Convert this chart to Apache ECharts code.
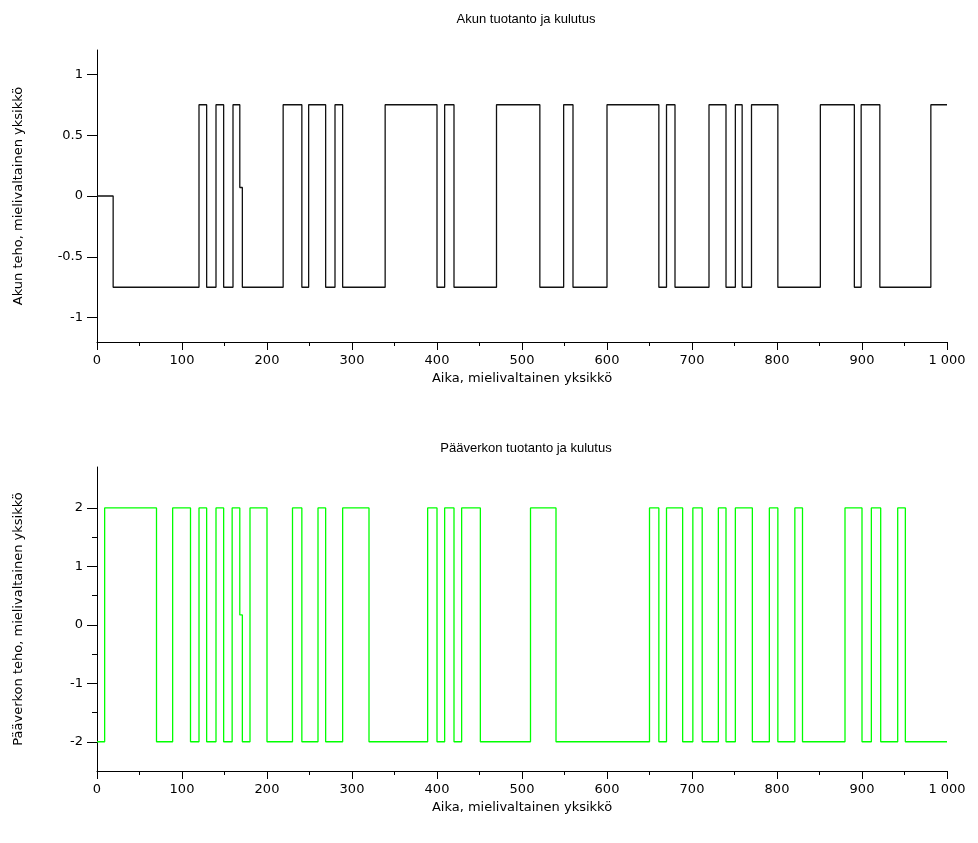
<!DOCTYPE html>
<html>
<head>
<meta charset='utf-8' />
<title>Akun ja pääverkon tuotanto</title>
<style>
html, body { margin: 0; padding: 0; background: #fff; }
#kuva { width: 978px; height: 843px; }
</style>
</head>
<body>
<div id="kuva"></div>
<script src="https://cdn.jsdelivr.net/npm/echarts@6.0.0/dist/echarts.min.js"></script>
<script>
// akun teho: muutoshetket ja tasot (taso pätee seuraavaan hetkeen asti)
var akunAjat = [0, 19, 120, 129, 140, 149, 160, 168, 171, 219, 241, 249, 269, 280, 289, 339,
  400, 409, 420, 470, 521, 549, 560, 600, 661, 670, 680, 720, 740, 751, 759, 770,
  801, 851, 891, 899, 921, 981, 1000];
var akunTeho = [0, -0.75, 0.75, -0.75, 0.75, -0.75, 0.75, 0.07, -0.75, 0.75, -0.75, 0.75, -0.75, 0.75, -0.75, 0.75,
  -0.75, 0.75, -0.75, 0.75, -0.75, 0.75, -0.75, 0.75, -0.75, 0.75, -0.75, 0.75, -0.75, 0.75, -0.75, 0.75,
  -0.75, 0.75, -0.75, 0.75, -0.75, 0.75, 0.75];

// pääverkon teho
var verkonAjat = [0, 9, 70, 89, 110, 120, 129, 140, 149, 159, 168, 171, 180, 200, 230, 241, 260, 269, 289, 320,
  389, 400, 409, 420, 429, 451, 510, 540, 650, 661, 670, 689, 701, 712, 731, 740, 751, 771, 791, 801,
  821, 830, 880, 900, 911, 922, 942, 951, 1000];
var verkonTeho = [-2, 2, -2, 2, -2, 2, -2, 2, -2, 2, 0.17, -2, 2, -2, 2, -2, 2, -2, 2, -2,
  2, -2, 2, -2, 2, -2, 2, -2, 2, -2, 2, -2, 2, -2, 2, -2, 2, -2, 2, -2,
  2, -2, 2, -2, 2, -2, 2, -2, -2];

var akunTikit = [-1, -0.5, 0, 0.5, 1];
var verkonTikit = [-2, -1, 0, 1, 2];
var verkonPikkuTikit = [-1.5, -0.5, 0.5, 1.5];

var fontti = 'DejaVu Sans';
var otsikkoFontti = 'Liberation Sans';

function pareiksi(ajat, arvot) {
  var res = [];
  for (var i = 0; i < ajat.length; i++) {
    res.push([ajat[i], arvot[i]]);
  }
  return res;
}

function tuhannet(v) {
  return String(v).replace(/\B(?=(\d{3})+(?!\d))/g, ' ');
}

function xAkseli(grid) {
  return {
    type: 'value',
    gridIndex: grid,
    min: 0,
    max: 1000,
    interval: 100,
    name: 'Aika, mielivaltainen yksikkö',
    nameLocation: 'middle',
    nameGap: 30,
    nameTextStyle: { color: '#000', fontSize: 13, fontFamily: fontti },
    axisLine: { onZero: false, lineStyle: { color: '#000', width: 1 } },
    axisTick: { length: 8, lineStyle: { color: '#000' } },
    minorTick: { show: true, splitNumber: 2, length: 4, lineStyle: { color: '#000' } },
    axisLabel: { color: '#000', fontSize: 13, fontFamily: fontti, margin: 12, formatter: tuhannet },
    splitLine: { show: false }
  };
}

var kuva = echarts.init(document.getElementById('kuva'));

var option = {
  animation: false,
  backgroundColor: '#fff',
  title: [
    {
      text: 'Akun tuotanto ja kulutus',
      left: 521, top: 8, textAlign: 'center',
      textStyle: { color: '#000', fontSize: 13, fontWeight: 'normal', fontFamily: otsikkoFontti }
    },
    {
      text: 'Pääverkon tuotanto ja kulutus',
      left: 521, top: 437, textAlign: 'center',
      textStyle: { color: '#000', fontSize: 13, fontWeight: 'normal', fontFamily: otsikkoFontti }
    }
  ],
  grid: [
    { left: 97, right: 31, top: 50, height: 292 },
    { left: 97, right: 31, top: 467, height: 304 }
  ],
  xAxis: [xAkseli(0), xAkseli(1)],
  yAxis: [
    {
      type: 'value',
      gridIndex: 0,
      position: 'left',
      min: -1.2,
      max: 1.2,
      name: 'Akun teho, mielivaltainen yksikkö',
      nameLocation: 'middle',
      nameGap: 72,
      nameTextStyle: { color: '#000', fontSize: 13, fontFamily: fontti },
      axisLine: { show: true, onZero: false, lineStyle: { color: '#000', width: 1 } },
      axisTick: { show: true, length: 10, customValues: akunTikit, lineStyle: { color: '#000' } },
      axisLabel: { color: '#000', fontSize: 13, fontFamily: fontti, margin: 14, customValues: akunTikit },
      splitLine: { show: false }
    },
    {
      type: 'value',
      gridIndex: 1,
      position: 'left',
      min: -2.5,
      max: 2.7,
      name: 'Pääverkon teho, mielivaltainen yksikkö',
      nameLocation: 'middle',
      nameGap: 72,
      nameTextStyle: { color: '#000', fontSize: 13, fontFamily: fontti },
      axisLine: { show: true, onZero: false, lineStyle: { color: '#000', width: 1 } },
      axisTick: { show: true, length: 10, customValues: verkonTikit, lineStyle: { color: '#000' } },
      axisLabel: { color: '#000', fontSize: 13, fontFamily: fontti, margin: 14, customValues: verkonTikit },
      splitLine: { show: false }
    },
    {
      // pienet tikit puolikkaiden kohdalla
      type: 'value',
      gridIndex: 1,
      position: 'left',
      offset: 0,
      min: -2.5,
      max: 2.7,
      axisLine: { show: false, onZero: false },
      axisTick: { show: true, inside: false, length: 5, customValues: verkonPikkuTikit, lineStyle: { color: '#000' } },
      axisLabel: { show: false },
      splitLine: { show: false }
    }
  ],
  series: [
    {
      type: 'line',
      xAxisIndex: 0,
      yAxisIndex: 0,
      step: 'end',
      symbol: 'none',
      lineStyle: { color: '#111', width: 1.3 },
      data: pareiksi(akunAjat, akunTeho)
    },
    {
      type: 'line',
      xAxisIndex: 1,
      yAxisIndex: 1,
      step: 'end',
      symbol: 'none',
      lineStyle: { color: '#00ff00', width: 1.3 },
      data: pareiksi(verkonAjat, verkonTeho)
    }
  ]
};

kuva.setOption(option);
</script>
</body>
</html>
